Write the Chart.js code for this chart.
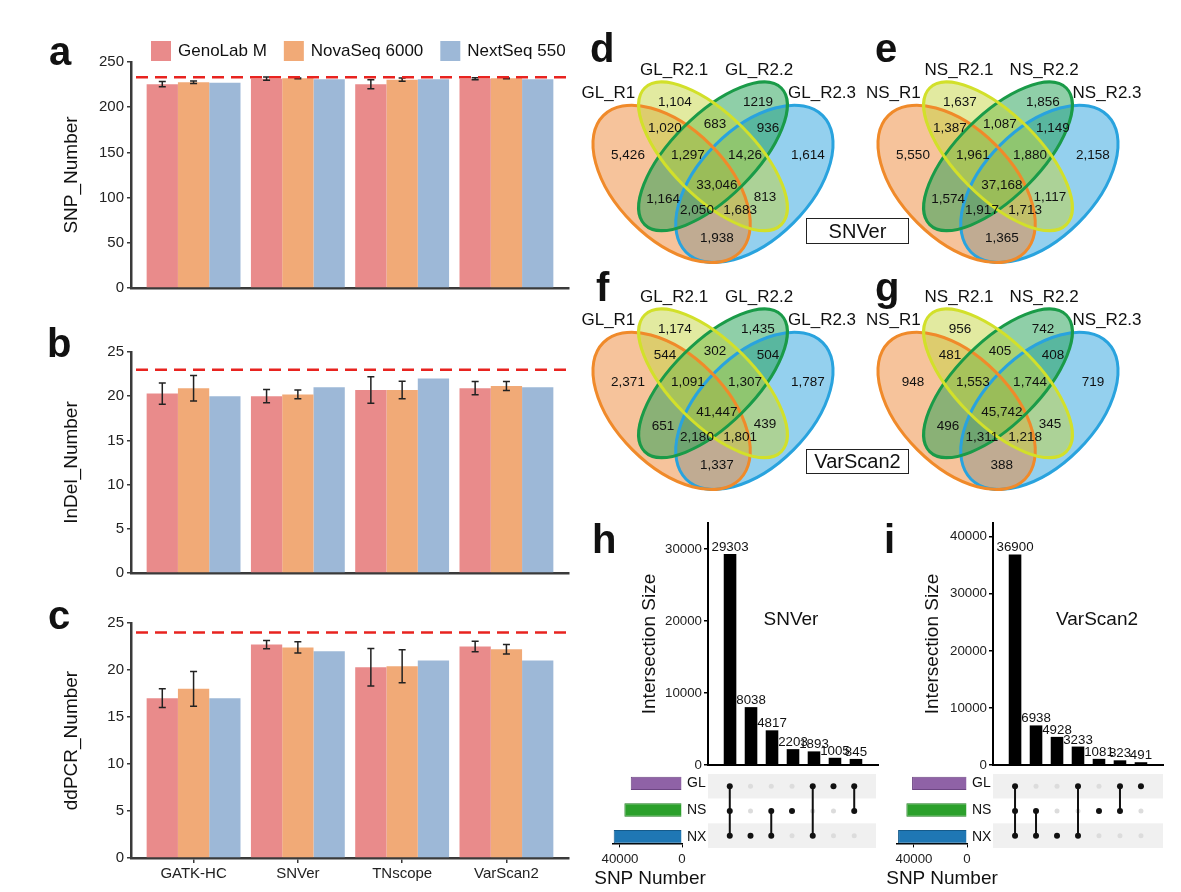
<!DOCTYPE html>
<html>
<head>
<meta charset="utf-8">
<script src="https://cdn.jsdelivr.net/npm/chart.js@4.4.0/dist/chart.umd.min.js"></script>
<style>
body { margin: 0; background: #fff; }
#page { position: relative; width: 1181px; height: 892px; overflow: hidden; font-family: "Liberation Sans", Arial, sans-serif; color: #111; }
canvas { position: absolute; }
.letter { position: absolute; font-weight: bold; font-size: 40px; line-height: 40px; }
.txt { position: absolute; white-space: nowrap; line-height: 1; transform: translate(-50%, -50%); }
.box { position: absolute; border: 1px solid #222; box-sizing: border-box; font-size: 20px; text-align: center; }
</style>
</head>
<body>
<div id="page"></div>
<script>
// ---- data: panels a-c ----
const callers = ['GATK-HC', 'SNVer', 'TNscope', 'VarScan2'];
const platforms = ['GenoLab M', 'NovaSeq 6000', 'NextSeq 550'];
const platformColors = ['#e98b8b', '#f1aa77', '#9db8d7'];

const snpGL = [225.5, 231.5, 225.5, 231.5];
const snpNS = [227.5, 232, 230.5, 232];
const snpNX = [227, 231, 231, 231];
const snpErrGL = [3, 1.8, 5, 1.2];
const snpErrNS = [1.4, 0.4, 1.8, 0.4];
const snpRef = 233;

const indelGL = [20.3, 20.0, 20.7, 20.9];
const indelNS = [20.9, 20.2, 20.7, 21.15];
const indelNX = [20, 21, 22, 21];
const indelErrGL = [1.2, 0.75, 1.5, 0.75];
const indelErrNS = [1.45, 0.5, 1.0, 0.5];
const indelRef = 23;

const ddpcrGL = [17, 22.7, 20.3, 22.5];
const ddpcrNS = [18, 22.4, 20.4, 22.2];
const ddpcrNX = [17, 22, 21, 21];
const ddpcrErrGL = [1, 0.45, 2, 0.55];
const ddpcrErrNS = [1.85, 0.6, 1.75, 0.5];
const ddpcrRef = 24;

// ---- data: venn diagrams d-g ----
const vennNamesGL = ['GL_R1', 'GL_R2.1', 'GL_R2.2', 'GL_R2.3'];
const vennNamesNS = ['NS_R1', 'NS_R2.1', 'NS_R2.2', 'NS_R2.3'];
// region order: R2.1, R2.2, R1&R2.1, R2.1&R2.2, R2.2&R2.3, R1, R1&R2.1&R2.2, R2.1&R2.2&R2.3,
//               R2.3, all, R1&R2.2, R2.1&R2.3, R1&R2.2&R2.3, R1&R2.1&R2.3, R1&R2.3
const vennSNVerGL = ['1,104', '1219', '1,020', '683', '936', '5,426', '1,297', '14,26', '1,614', '33,046', '1,164', '813', '2,050', '1,683', '1,938'];
const vennSNVerNS = ['1,637', '1,856', '1,387', '1,087', '1,149', '5,550', '1,961', '1,880', '2,158', '37,168', '1,574', '1,117', '1,917', '1,713', '1,365'];
const vennVarScanGL = ['1,174', '1,435', '544', '302', '504', '2,371', '1,091', '1,307', '1,787', '41,447', '651', '439', '2,180', '1,801', '1,337'];
const vennVarScanNS = ['956', '742', '481', '405', '408', '948', '1,553', '1,744', '719', '45,742', '496', '345', '1,311', '1,218', '388'];

// ---- data: upset plots h-i ----
const setNames = ['GL', 'NS', 'NX'];
const snverInter = [29303, 8038, 4817, 2203, 1893, 1005, 845];
const snverMembers = [['GL', 'NS', 'NX'], ['NX'], ['NS', 'NX'], ['NS'], ['GL', 'NX'], ['GL'], ['GL', 'NS']];
const snverSetSize = [33046, 37168, 44051];
const varscanInter = [36900, 6938, 4928, 3233, 1081, 823, 491];
const varscanMembers = [['GL', 'NS', 'NX'], ['NS', 'NX'], ['NX'], ['GL', 'NX'], ['NS'], ['GL', 'NS'], ['GL']];
const varscanSetSize = [41447, 45742, 51999];
const interTicks = [0, 10000, 20000, 30000, 40000];
const setSizeTicks = [0, 40000];

// ---- styling / layout ----
const FONT = '"Liberation Sans", Arial, sans-serif';
Chart.defaults.font.family = FONT;
Chart.defaults.color = '#222';
const page = document.getElementById('page');
const setColors = ['#8f62a6', '#2ca02c', '#1f77b4'];
const setBorders = ['#6c4582', '#1d7a1d', '#155a8a'];

// ellipse layout in venn units (VennDiagram style quad layout), drawn in this order
const vennShapes = [
  { cx: 0.65, cy: 0.47, a: 0.35, b: 0.20, rot: -45, fill: 'rgba(41,161,221,0.5)', line: '#29a3de' },
  { cx: 0.35, cy: 0.47, a: 0.35, b: 0.20, rot: 45, fill: 'rgba(237,135,55,0.5)', line: '#f08a2a' },
  { cx: 0.50, cy: 0.57, a: 0.35, b: 0.15, rot: -45, fill: 'rgba(31,159,81,0.5)', line: '#1a9b48' },
  { cx: 0.50, cy: 0.57, a: 0.35, b: 0.15, rot: 45, fill: 'rgba(197,213,65,0.5)', line: '#d2e02a' }
];
const vennCountPos = [[0.362, 0.767], [0.663, 0.767], [0.326, 0.673], [0.507, 0.687], [0.699, 0.673],
  [0.192, 0.575], [0.409, 0.575], [0.616, 0.575], [0.844, 0.575], [0.514, 0.466],
  [0.319, 0.415], [0.688, 0.422], [0.442, 0.375], [0.598, 0.375], [0.514, 0.274]];
const vennNamePos = [[0.121, 0.799], [0.359, 0.883], [0.667, 0.883], [0.895, 0.799]];

// ---- plugins ----
const errBarPlugin = {
  id: 'errBars',
  afterDatasetsDraw(chart) {
    const ctx = chart.ctx, ys = chart.scales.y;
    chart.data.datasets.forEach((ds, di) => {
      if (!ds.errors) return;
      const meta = chart.getDatasetMeta(di);
      ctx.save();
      ctx.strokeStyle = '#222';
      ctx.lineWidth = 1.5;
      meta.data.forEach((bar, i) => {
        const v = ds.data[i].y, e = ds.errors[i];
        const y1 = ys.getPixelForValue(v + e), y2 = ys.getPixelForValue(v - e);
        ctx.beginPath();
        ctx.moveTo(bar.x, y1); ctx.lineTo(bar.x, y2);
        ctx.moveTo(bar.x - 3.5, y1); ctx.lineTo(bar.x + 3.5, y1);
        ctx.moveTo(bar.x - 3.5, y2); ctx.lineTo(bar.x + 3.5, y2);
        ctx.stroke();
      });
      ctx.restore();
    });
  }
};

const refLinePlugin = {
  id: 'refLine',
  afterDatasetsDraw(chart, args, opts) {
    if (opts.value == null) return;
    const { ctx, chartArea: a } = chart;
    const y = chart.scales.y.getPixelForValue(opts.value);
    ctx.save();
    ctx.strokeStyle = '#e8231f';
    ctx.lineWidth = 2.5;
    ctx.setLineDash([12, 7]);
    ctx.beginPath();
    ctx.moveTo(a.left + 5, y);
    ctx.lineTo(a.right, y);
    ctx.stroke();
    ctx.restore();
  }
};

const boxLegendPlugin = {
  id: 'boxLegend',
  afterDraw(chart, args, opts) {
    if (opts.x == null) return;
    const ctx = chart.ctx;
    ctx.save();
    ctx.font = '17px ' + FONT;
    ctx.textBaseline = 'middle';
    let x = opts.x;
    chart.data.datasets.forEach(ds => {
      ctx.fillStyle = ds.backgroundColor;
      ctx.fillRect(x, opts.y, 20, 20);
      x += 27;
      ctx.fillStyle = '#111';
      ctx.fillText(ds.label, x, opts.y + 10.5);
      x += ctx.measureText(ds.label).width + 17;
    });
    ctx.restore();
  }
};

const barValuePlugin = {
  id: 'barValues',
  afterDatasetsDraw(chart, args, opts) {
    if (!opts.show) return;
    const ctx = chart.ctx;
    const ds = chart.data.datasets[0];
    ctx.save();
    ctx.font = '13.3px ' + FONT;
    ctx.fillStyle = '#111';
    ctx.textAlign = 'center';
    ctx.textBaseline = 'alphabetic';
    chart.getDatasetMeta(0).data.forEach((bar, i) => {
      ctx.fillText(String(ds.data[i].y), bar.x, bar.y - 3);
    });
    ctx.restore();
  }
};

const bandPlugin = {
  id: 'bands',
  beforeDatasetsDraw(chart, args, opts) {
    if (!opts.colors) return;
    const { ctx, chartArea: a } = chart, ys = chart.scales.y;
    opts.colors.forEach((c, r) => {
      const y1 = ys.getPixelForValue(r - 0.5), y2 = ys.getPixelForValue(r + 0.5);
      ctx.fillStyle = c;
      ctx.fillRect(a.left, Math.min(y1, y2), a.right - a.left, Math.abs(y2 - y1));
    });
  }
};

const vennPlugin = {
  id: 'venn',
  afterDraw(chart, args, o) {
    if (!o.counts) return;
    const ctx = chart.ctx, xs = chart.scales.x, ys = chart.scales.y;
    const px = v => xs.getPixelForValue(v), py = v => ys.getPixelForValue(v);
    const unit = px(1) - px(0);
    ctx.save();
    vennShapes.forEach(s => {
      ctx.beginPath();
      ctx.ellipse(px(s.cx), py(s.cy), s.a * unit, s.b * unit, s.rot * Math.PI / 180, 0, Math.PI * 2);
      ctx.fillStyle = s.fill;
      ctx.fill();
    });
    ctx.lineWidth = 3;
    vennShapes.forEach(s => {
      ctx.beginPath();
      ctx.ellipse(px(s.cx), py(s.cy), s.a * unit, s.b * unit, s.rot * Math.PI / 180, 0, Math.PI * 2);
      ctx.strokeStyle = s.line;
      ctx.stroke();
    });
    ctx.fillStyle = '#111';
    ctx.textAlign = 'center';
    ctx.textBaseline = 'middle';
    ctx.font = '13.5px ' + FONT;
    o.counts.forEach((t, i) => ctx.fillText(t, px(vennCountPos[i][0]), py(vennCountPos[i][1])));
    ctx.font = '17px ' + FONT;
    o.names.forEach((t, i) => ctx.fillText(t, px(vennNamePos[i][0]), py(vennNamePos[i][1])));
    ctx.restore();
  }
};

Chart.register(errBarPlugin, refLinePlugin, boxLegendPlugin, barValuePlugin, bandPlugin, vennPlugin);

function makeChart(left, top, w, h, cfg) {
  const c = document.createElement('canvas');
  c.width = w; c.height = h;
  c.style.left = left + 'px'; c.style.top = top + 'px';
  c.style.width = w + 'px'; c.style.height = h + 'px';
  page.appendChild(c);
  cfg.options.responsive = false;
  cfg.options.animation = false;
  cfg.options.devicePixelRatio = 1;
  return new Chart(c.getContext('2d'), cfg);
}

// ---- panels a, b, c ----
function barPanel(top, height, areaTop, areaBottom, yMax, yStep, title, vals, errs, ref, showX, legend) {
  const datasets = platforms.map((p, k) => ({
    label: p,
    data: vals[k].map((v, i) => ({ x: i, y: v })),
    errors: errs[k],
    backgroundColor: platformColors[k],
    borderWidth: 0,
    categoryPercentage: 0.9,
    barPercentage: 1.0
  }));
  return makeChart(0, top, 590, height, {
    type: 'bar',
    data: { datasets },
    options: {
      layout: { padding: { left: 0, right: 21, top: areaTop, bottom: 0 } },
      plugins: { legend: false, tooltip: false, refLine: { value: ref }, boxLegend: legend || {} },
      scales: {
        x: {
          type: 'linear', min: -0.6, max: 3.6, offset: false,
          afterBuildTicks: s => { s.ticks = callers.map((c, i) => ({ value: i })); },
          afterFit: s => { s.height = height - areaBottom; },
          border: { display: true, color: '#3a3a3a', width: 2.5 },
          grid: { display: showX, offset: false, drawOnChartArea: false, tickLength: 5, color: '#3a3a3a', lineWidth: 1.5 },
          ticks: { display: showX, callback: v => callers[v], font: { size: 15 }, color: '#222', padding: 2, maxRotation: 0, autoSkip: false }
        },
        y: {
          min: 0, max: yMax,
          afterFit: s => { s.width = 131; },
          ticks: { stepSize: yStep, font: { size: 15 }, color: '#222', padding: 3 },
          border: { color: '#3a3a3a', width: 2.5 },
          grid: { drawOnChartArea: false, tickLength: 4, color: '#3a3a3a', lineWidth: 1.5 },
          title: { display: true, text: title, font: { size: 19 }, color: '#111', padding: { top: 60.6, bottom: 0 } }
        }
      }
    }
  });
}

barPanel(0, 300, 62, 295, 250, 50, 'SNP_Number',
  [snpGL, snpNS, snpNX], [snpErrGL, snpErrNS, null], snpRef, false, { x: 151, y: 41 });
barPanel(300, 285, 52, 277, 25, 5, 'InDel_Number',
  [indelGL, indelNS, indelNX], [indelErrGL, indelErrNS, null], indelRef, false, null);
barPanel(585, 307, 38, 273, 25, 5, 'ddPCR_Number',
  [ddpcrGL, ddpcrNS, ddpcrNX], [ddpcrErrGL, ddpcrErrNS, null], ddpcrRef, true, null);

// ---- panels d-g ----
function venn(X0, Y0, left, top, w, h, counts, names) {
  const U = 276;
  const xmin = 0.5 + (left - X0) / U, xmax = xmin + w / U;
  const ymax = (Y0 - top) / U, ymin = ymax - h / U;
  makeChart(left, top, w, h, {
    type: 'scatter',
    data: { datasets: [{ data: [] }] },
    options: {
      layout: { padding: 0 },
      plugins: { legend: false, tooltip: false, venn: { counts, names } },
      scales: {
        x: { type: 'linear', display: false, min: xmin, max: xmax },
        y: { type: 'linear', display: false, min: ymin, max: ymax }
      }
    }
  });
}
venn(713, 313.6, 573, 10, 290, 262, vennSNVerGL, vennNamesGL);
venn(998, 313.6, 858, 10, 300, 262, vennSNVerNS, vennNamesNS);
venn(713, 540.6, 573, 237, 290, 262, vennVarScanGL, vennNamesGL);
venn(998, 540.6, 858, 237, 300, 262, vennVarScanNS, vennNamesNS);

// ---- panels h, i ----
function upset(left, inter, members, sizes, yMax, setMax, areaLeft, areaRight, titlePad, setLeft, setAreaLeft) {
  const W = 300;
  // intersection bars
  makeChart(left, 500, W, 275, {
    type: 'bar',
    data: { datasets: [{ data: inter.map((v, i) => ({ x: i, y: v })), backgroundColor: '#000', categoryPercentage: 1, barPercentage: 0.6 }] },
    options: {
      layout: { padding: { left: 0, right: W - areaRight, top: 23, bottom: 0 } },
      plugins: { legend: false, tooltip: false, barValues: { show: true } },
      scales: {
        x: {
          type: 'linear', min: -1.05, max: 7.05, offset: false,
          afterBuildTicks: s => { s.ticks = inter.map((v, i) => ({ value: i })); },
          afterFit: s => { s.height = 6.5; },
          ticks: { display: false }, grid: { display: false, offset: false },
          border: { color: '#000', width: 2 }
        },
        y: {
          min: 0, max: yMax,
          afterBuildTicks: s => { s.ticks = interTicks.filter(v => v <= yMax).map(v => ({ value: v })); },
          afterFit: s => { s.width = areaLeft; },
          ticks: { callback: v => String(v), font: { size: 13.3 }, color: '#222', padding: 2 },
          grid: { drawOnChartArea: false, tickLength: 4, color: '#000', lineWidth: 1.5 },
          border: { color: '#000', width: 2 },
          title: { display: true, text: 'Intersection Size', font: { size: 19 }, color: '#111', padding: { top: titlePad, bottom: 0 } }
        }
      }
    }
  });

  // membership matrix
  const all = [], on = [], lines = [];
  members.forEach((m, c) => {
    setNames.forEach((n, r) => {
      all.push({ x: c, y: r });
      if (m.includes(n)) on.push({ x: c, y: r });
    });
    const rows = m.map(n => setNames.indexOf(n));
    lines.push({ x: c, y: Math.min(...rows) }, { x: c, y: Math.max(...rows) }, { x: c, y: null });
  });
  makeChart(left, 770, W, 82, {
    type: 'scatter',
    data: {
      datasets: [
        { data: on, backgroundColor: '#111', borderWidth: 0, pointRadius: 3 },
        { type: 'line', data: lines, borderColor: '#111', borderWidth: 2, pointRadius: 0, spanGaps: false },
        { data: all, backgroundColor: '#dcdcdc', borderWidth: 0, pointRadius: 2.5 }
      ]
    },
    options: {
      layout: { padding: { left: areaLeft, right: W - areaRight, top: 2, bottom: 3 } },
      plugins: { legend: false, tooltip: false, bands: { colors: ['#f0f0f0', '#ffffff', '#f0f0f0'] } },
      scales: {
        x: { type: 'linear', display: false, min: -1.05, max: 7.05 },
        y: { type: 'linear', display: false, min: -0.5, max: 2.5, reverse: true }
      }
    }
  });

  // set sizes
  const SW = left + areaLeft - setLeft;
  makeChart(setLeft, 755, SW, 137, {
    type: 'bar',
    data: { datasets: [{ data: sizes.map((v, i) => ({ x: v, y: i })), backgroundColor: setColors, borderColor: setBorders, borderWidth: 1, barPercentage: 0.5, categoryPercentage: 1 }] },
    options: {
      indexAxis: 'y',
      layout: { padding: { left: setAreaLeft, right: 0, top: 15, bottom: 0 } },
      plugins: { legend: false, tooltip: false },
      scales: {
        x: {
          type: 'linear', reverse: true, min: 0, max: setMax, offset: false,
          afterBuildTicks: s => { s.ticks = setSizeTicks.map(v => ({ value: v })); },
          afterFit: s => { s.height = 48.6; },
          ticks: { callback: v => String(v), font: { size: 13.3 }, color: '#222', padding: 4, maxRotation: 0 },
          grid: { drawOnChartArea: false, offset: false, tickLength: 4, color: '#000' },
          border: { color: '#000', width: 1.5 }
        },
        y: {
          type: 'linear', position: 'right', reverse: true, min: -0.5, max: 2.25, offset: false,
          afterBuildTicks: s => { s.ticks = setNames.map((n, i) => ({ value: i })); },
          afterFit: s => { s.width = 26; },
          ticks: { callback: v => setNames[v], font: { size: 14 }, color: '#111', padding: 5 },
          grid: { display: false, drawTicks: false, offset: false },
          border: { display: false }
        }
      }
    }
  });
}
upset(580, snverInter, snverMembers, snverSetSize, 33600, 44500, 128, 298, 58.6, 590, 23);
upset(880, varscanInter, varscanMembers, varscanSetSize, 42400, 52800, 113, 283, 41.6, 875, 22);

// ---- text overlays ----
const letters = [['a', 49, 65], ['b', 47, 357], ['c', 48, 629], ['d', 590, 62], ['e', 875, 62],
  ['f', 596, 301], ['g', 875, 301], ['h', 592, 553], ['i', 884, 553]];
letters.forEach(([t, x, base]) => {
  const d = document.createElement('div');
  d.className = 'letter';
  d.textContent = t;
  d.style.left = x + 'px';
  d.style.top = (base - 34) + 'px';
  page.appendChild(d);
});
[['SNVer', 791, 618, 19], ['VarScan2', 1097, 618, 19], ['SNP Number', 650, 877, 19], ['SNP Number', 942, 877, 19]].forEach(([t, x, y, fs]) => {
  const d = document.createElement('div');
  d.className = 'txt';
  d.style.fontSize = fs + 'px';
  d.textContent = t;
  d.style.left = x + 'px';
  d.style.top = y + 'px';
  page.appendChild(d);
});
[['SNVer', 218, 26], ['VarScan2', 449, 25]].forEach(([t, y, h]) => {
  const d = document.createElement('div');
  d.className = 'box';
  d.textContent = t;
  d.style.left = '806px';
  d.style.top = y + 'px';
  d.style.width = '103px';
  d.style.height = h + 'px';
  d.style.lineHeight = (h - 2) + 'px';
  page.appendChild(d);
});
</script>
</body>
</html>
